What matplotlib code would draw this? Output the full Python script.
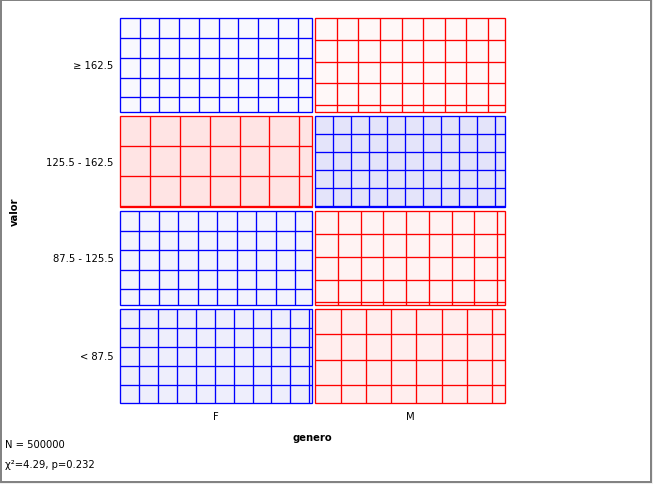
import matplotlib
matplotlib.use("Agg")
import matplotlib.pyplot as plt
from matplotlib.patches import Rectangle
import numpy as np

# ---- data ----
col_labels = ["F", "M"]
row_labels = ["\u2265 162.5", "125.5 - 162.5", "87.5 - 125.5", "< 87.5"]
col_totals = [251000, 249000]
row_totals = [126200, 121800, 125800, 126200]
# Pearson residuals per cell (rows x cols)
pearson_F = [0.28, -1.14, 0.52, 0.71]
pearson_M = [-0.28, 1.14, -0.52, -0.71]
# relative observed density shown by the sieve grid (rows x cols)
density_F = [1.027, 0.448, 1.054, 1.116]
density_M = [0.857, 1.235, 0.773, 0.625]
n_total = 500000
chi2 = 4.29
p_value = 0.232
x_title = "genero"
y_title = "valor"

pearson = np.array([pearson_F, pearson_M]).T
density = np.array([density_F, density_M]).T

W, H = 653, 485
fig = plt.figure(figsize=(W / 100, H / 100), dpi=100)
fig.patch.set_facecolor("#f0f0f0")
ax = fig.add_axes([0, 0, 1, 1])
ax.set_xlim(0, W)
ax.set_ylim(H, 0)
ax.axis("off")

# window frame
ax.add_patch(Rectangle((1, 1), 650, 482, facecolor="white", edgecolor="#808080",
                       linewidth=1.4, zorder=0))

x0, x1, gx = 120.0, 505.3, 3.6
y0, y1, gy = 19.3, 404.3, 4.0
cw = (x1 - x0 - gx * (len(col_labels) - 1)) * np.array(col_totals) / sum(col_totals)
rh = (y1 - y0 - gy * (len(row_labels) - 1)) * np.array(row_totals) / sum(row_totals)

lw = 0.95
base = 20.0
xl = x0
for j in range(len(col_labels)):
    yt = y0
    for i in range(len(row_labels)):
        r = pearson[i, j]
        s = 24 * abs(r)
        if r > 0:
            fill = ((255 - s) / 255, (255 - s) / 255, (255 - s * 0.2) / 255)
            line = "#0000ff"
        else:
            fill = (1.0, (255 - s) / 255, (255 - s) / 255)
            line = "#ff0000"
        w, h = cw[j], rh[i]
        ax.add_patch(Rectangle((xl, yt), w, h, facecolor=fill, edgecolor=line,
                               linewidth=lw, zorder=1))
        d = base / np.sqrt(density[i, j])
        xs = xl + d
        while xs < xl + w - 0.3:
            ax.plot([xs, xs], [yt, yt + h], color=line, lw=lw, zorder=2,
                    solid_capstyle="butt")
            xs += d
        ys = yt + d
        while ys < yt + h - 0.3:
            ax.plot([xl, xl + w], [ys, ys], color=line, lw=lw, zorder=2,
                    solid_capstyle="butt")
            ys += d
        if j == 0:
            ax.text(113.5, yt + h / 2, row_labels[i], ha="right", va="center",
                    fontsize=7.2, color="black")
        yt += h + gy
    ax.text(xl + cw[j] / 2, 417, col_labels[j], ha="center", va="center",
            fontsize=7.2, color="black")
    xl += cw[j] + gx

ax.text(312, 438, x_title, ha="center", va="center", fontsize=7.2,
        fontweight="bold")
ax.text(14.5, 211.5, y_title, ha="center", va="center", fontsize=7.2,
        fontweight="bold", rotation=90)
ax.text(5, 445, f"N = {n_total}", ha="left", va="center", fontsize=7.2)
ax.text(5, 465, f"\u03c7\u00b2={chi2}, p={p_value}", ha="left", va="center",
        fontsize=7.2)

fig.savefig("out.png", dpi=100)
